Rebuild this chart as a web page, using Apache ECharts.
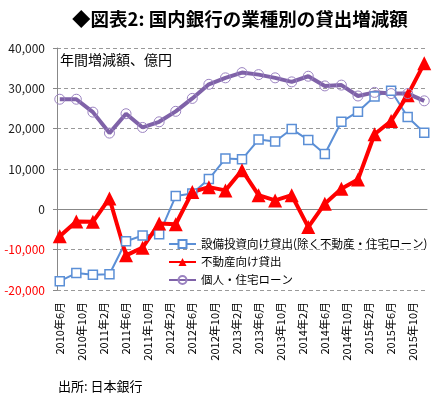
<!DOCTYPE html>
<html>
<head>
<meta charset="utf-8">
<script src="https://cdn.jsdelivr.net/npm/echarts@6/dist/echarts.min.js"></script>
<style>
html,body{margin:0;padding:0;background:#fff}
#chart{width:435px;height:399px}
</style>
</head>
<body>
<div id="chart"></div>
<script>
// monthly categories 2010年6月 .. 2015年12月, data is quarterly
var startYear = 2010, startMonth = 6, monthCount = 67;
var months = [];
for (var i = 0; i < monthCount; i++) {
  var m = startMonth - 1 + i;
  months.push((startYear + Math.floor(m / 12)) + '年' + (m % 12 + 1) + '月');
}

var names = ['設備投資向け貸出(除く不動産・住宅ローン)', '不動産向け貸出', '個人・住宅ローン'];

var capex = [-17800, -15800, -16200, -16100, -7900, -6500, -6200, 3300, 3900, 7500, 12600, 12400,
  17300, 16800, 19900, 17200, 13700, 21700, 24200, 28000, 29400, 22900, 19000];
var realEstate = [-6700, -3000, -3100, 2700, -11400, -9500, -3500, -3700, 4300, 5500, 4700, 9700,
  3500, 2200, 3500, -4400, 1400, 5100, 7400, 18600, 21900, 28300, 36200];
var personal = [27300, 27300, 24100, 18900, 23700, 20300, 21700, 24300, 27500, 31000, 32600, 33900,
  33400, 32600, 31600, 33000, 30600, 30800, 28100, 29000, 28700, 28700, 26900];

function quarterly(arr) {
  return arr.map(function (v, i) { return [i * 3, v]; });
}

var font = 'Noto Sans CJK JP';
var chart = echarts.init(document.getElementById('chart'));

var option = {
  animation: false,
  textStyle: { fontFamily: font },
  title: {
    text: '◆図表2: 国内銀行の業種別の貸出増減額',
    left: 67, top: 5,
    textStyle: { fontFamily: font, fontSize: 18.5, fontWeight: 'bold', color: '#000' }
  },
  grid: { left: 57, right: 8, top: 48, bottom: 109 },
  legend: {
    orient: 'vertical',
    left: 168, top: 237, padding: 0,
    itemWidth: 27, itemHeight: 10, itemGap: 4,
    textStyle: { fontFamily: font, fontSize: 11.5, lineHeight: 14, color: '#000' },
    data: names
  },
  graphic: [
    { type: 'text', left: 60, top: 53, style: { text: '年間増減額、億円', fontFamily: font, fontSize: 14, fill: '#000' } },
    { type: 'text', left: 58, top: 380, style: { text: '出所: 日本銀行', fontFamily: font, fontSize: 13, fill: '#000' } }
  ],
  xAxis: [{
    type: 'category',
    data: months,
    boundaryGap: true,
    axisLine: { onZero: true, lineStyle: { color: '#888', width: 1 } },
    axisTick: { interval: 3, length: 5, lineStyle: { color: '#888' } },
    axisLabel: { show: false },
    splitLine: { show: false }
  }, {
    type: 'category',
    data: months,
    position: 'bottom',
    boundaryGap: true,
    axisLine: { show: false, onZero: false },
    axisTick: { show: false },
    axisLabel: { interval: 3, rotate: 90, margin: 12, fontSize: 11, color: '#000', fontFamily: font }
  }],
  yAxis: {
    type: 'value',
    min: -20000, max: 40000, interval: 10000,
    axisLine: { show: true, lineStyle: { color: '#888' } },
    axisTick: { show: true, length: 4, lineStyle: { color: '#888' } },
    axisLabel: {
      margin: 12, fontSize: 12, fontFamily: font,
      color: function (v) { return Number(v) < 0 ? '#ff0000' : '#1a1a1a'; },
      formatter: function (v) { return v.toLocaleString('en-US'); }
    },
    splitLine: { lineStyle: { color: '#999', type: [4, 3], width: 1 } }
  },
  series: [{
    name: names[0], type: 'line', data: quarterly(capex),
    showSymbol: true, showAllSymbol: true,
    symbol: 'rect', symbolSize: 9,
    lineStyle: { color: '#5b8fd6', width: 2 },
    itemStyle: { color: '#fff', borderColor: '#5b8fd6', borderWidth: 1.5 }
  }, {
    name: names[1], type: 'line', data: quarterly(realEstate),
    showSymbol: true, showAllSymbol: true,
    symbol: 'triangle', symbolSize: 14,
    lineStyle: { color: '#ff0000', width: 4 },
    itemStyle: { color: '#ff0000' }
  }, {
    name: names[2], type: 'line', data: quarterly(personal),
    showSymbol: true, showAllSymbol: true,
    symbol: 'circle', symbolSize: 10,
    lineStyle: { color: '#7f62a8', width: 4 },
    itemStyle: { color: 'rgba(255,255,255,0)', borderColor: '#9a82c0', borderWidth: 1 }
  }]
};
chart.setOption(option);
</script>
</body>
</html>
